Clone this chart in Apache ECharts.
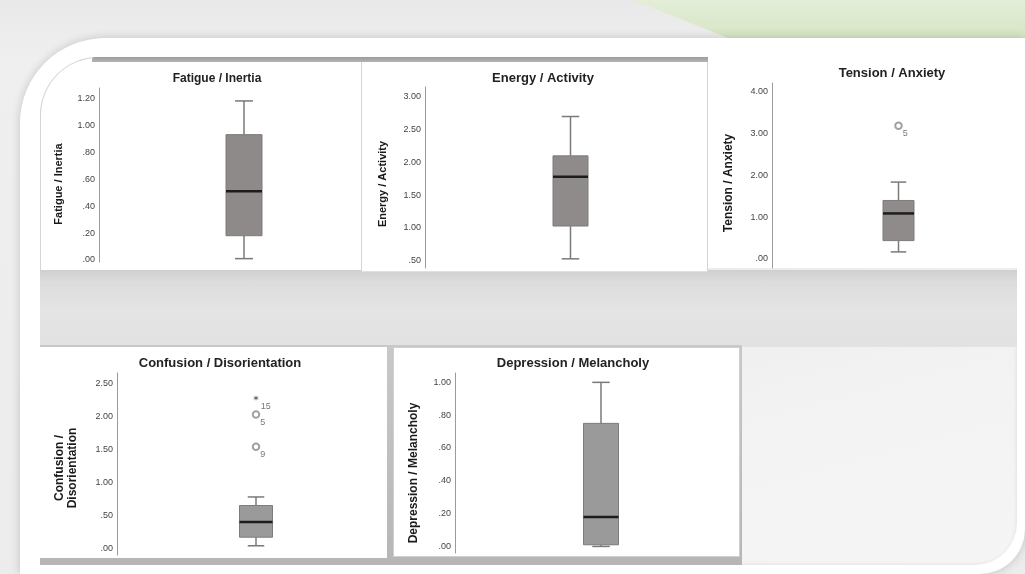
<!DOCTYPE html>
<html><head><meta charset="utf-8">
<script src="https://cdn.jsdelivr.net/npm/echarts@6/dist/echarts.min.js"></script>
<style>
html,body{margin:0;padding:0;}
body{width:1025px;height:574px;overflow:hidden;position:relative;font-family:"Liberation Sans",Arial,sans-serif;
 background:linear-gradient(180deg,#e9e9e9 0%,#efefef 10%,#ececec 100%);}
.abs{position:absolute;}
#green{left:0;top:0;width:1025px;height:38px;clip-path:polygon(633px 0,1025px 0,1025px 38px,728px 38px);
 background:linear-gradient(180deg,#e4eed8 0%,#d6e5c5 100%);}
#frame{left:20px;top:38px;width:1005px;height:536px;background:#fff;border-radius:85px 0 45px 0;
 box-shadow:0 0 10px rgba(0,0,0,0.18);}
#inner{left:40px;top:57px;width:977px;height:508px;border-radius:60px 0 42px 0;
 background:linear-gradient(165deg,#dedede 0%,#e8e8e8 40%,#f2f2f2 70%,#f5f5f5 100%);
 box-shadow:inset 2px 2px 6px rgba(0,0,0,0.18);}
#band{left:40px;top:270px;width:977px;height:77px;
 background:linear-gradient(180deg,#cfcfcf 0%,#dcdcdc 15%,#e4e4e4 50%,#e2e2e2 100%);}
#shadowBlock{left:40px;top:345px;width:702px;height:220px;background:linear-gradient(180deg,#c8c8c8,#b6b6b6);}
#p1{left:40px;top:57px;width:321px;height:212px;background:#fff;border-radius:58px 0 0 0;
 border-top:1px solid #d6d6d6;border-left:1px solid #d6d6d6;}
#topband{left:92px;top:57px;width:616px;height:5px;background:linear-gradient(180deg,#9c9c9c,#b4b4b4);
 border-radius:3px 0 0 0;}
#p2{left:361px;top:59px;width:345px;height:209px;background:#fff;border-top:3px solid #a4a4a4;
 border-left:1px solid #d4d4d4;border-right:1px solid #d4d4d4;border-bottom:1px solid #e0e0e0;}
#p3{left:708px;top:40px;width:317px;height:228px;background:#fff;}
#p4{left:40px;top:347px;width:347px;height:211px;background:#fff;}
#p5{left:393px;top:347px;width:345px;height:208px;background:#fff;border:1px solid #d0d0d0;}
#chart{left:0;top:0;width:1025px;height:574px;}
</style></head>
<body>
<div class="abs" id="green"></div>
<div class="abs" id="frame"></div>
<div class="abs" id="inner"></div>
<div class="abs" id="band"></div>
<div class="abs" id="shadowBlock"></div>
<div class="abs" id="p1"></div>
<div class="abs" id="p2"></div>
<div class="abs" id="topband"></div>
<div class="abs" id="p3"></div>
<div class="abs" id="p4"></div>
<div class="abs" id="p5"></div>
<div class="abs" id="chart"></div>
<script>
// ---- data ----
const panelTitles = ['Fatigue / Inertia','Energy / Activity','Tension / Anxiety','Confusion / Disorientation','Depression / Melancholy'];
const axisNames = ['Fatigue / Inertia','Energy / Activity','Tension / Anxiety','Confusion /\nDisorientation','Depression / Melancholy'];
// [lower whisker, Q1, median, Q3, upper whisker]
const fatigueBox = [0.01, 0.18, 0.51, 0.93, 1.18];
const energyBox = [0.53, 1.03, 1.78, 2.10, 2.70];
const tensionBox = [0.17, 0.44, 1.09, 1.40, 1.84];
const confusionBox = [0.04, 0.17, 0.40, 0.65, 0.78];
const depressionBox = [0.00, 0.01, 0.18, 0.75, 1.00];
const tensionOutlierValues = [3.19];
const tensionOutlierIds = ['5'];
const confusionOutlierValues = [2.03, 1.54];
const confusionOutlierIds = ['5', '9'];
const confusionExtremeValues = [2.28];
const confusionExtremeIds = ['15'];
const fatigueTicks = [0, 0.2, 0.4, 0.6, 0.8, 1.0, 1.2];
const energyTicks = [0.5, 1.0, 1.5, 2.0, 2.5, 3.0];
const tensionTicks = [0, 1, 2, 3, 4];
const confusionTicks = [0, 0.5, 1.0, 1.5, 2.0, 2.5];
const depressionTicks = [0, 0.2, 0.4, 0.6, 0.8, 1.0];

// ---- layout / style ----
const grids = [
  {left:99, top:88, width:290, height:174},
  {left:425, top:87, width:291, height:181},
  {left:772, top:83, width:302, height:185},
  {left:117, top:373, width:278, height:182},
  {left:455, top:373, width:292, height:180}
];
const ranges = [[-0.015,1.276],[0.39,3.15],[-0.215,4.21],[-0.1,2.66],[-0.04,1.057]];
const tickSets = [fatigueTicks, energyTicks, tensionTicks, confusionTicks, depressionTicks];
const boxes = [fatigueBox, energyBox, tensionBox, confusionBox, depressionBox];
const boxWidths = [36, 35, 31, 33, 35];
const fills = ['#8e8a89','#8f8b8a','#8f8b8a','#9a9a9a','#9a9a9a'];
const titlePos = [[217,79,12],[543,78,13],[892,73,13],[220,363,13],[573,363,13]];
const namePos = [[58.5,184,11],[383,184,11],[729,183,12],[66.5,468,12],[414,473,12]];

function fmt(v){ return v.toFixed(2).replace(/^0\./, '.'); }

function boxRenderer(w, fill){
  return function(params, api){
    const x = api.value(0);
    const lo = api.coord([x, api.value(1)]);
    const q1 = api.coord([x, api.value(2)]);
    const md = api.coord([x, api.value(3)]);
    const q3 = api.coord([x, api.value(4)]);
    const hi = api.coord([x, api.value(5)]);
    const cx = lo[0], hw = w/2, cw = w/4;
    const ws = {stroke:'#7a7a7a', lineWidth:1.5};
    return {type:'group', children:[
      {type:'line', shape:{x1:cx,y1:hi[1],x2:cx,y2:q3[1]}, style:ws},
      {type:'line', shape:{x1:cx,y1:q1[1],x2:cx,y2:lo[1]}, style:ws},
      {type:'line', shape:{x1:cx-cw,y1:hi[1],x2:cx+cw,y2:hi[1]}, style:ws},
      {type:'line', shape:{x1:cx-cw,y1:lo[1],x2:cx+cw,y2:lo[1]}, style:ws},
      {type:'rect', shape:{x:cx-hw,y:q3[1],width:w,height:q1[1]-q3[1]}, style:{fill:fill, stroke:'#7e7b7a', lineWidth:1}},
      {type:'line', shape:{x1:cx-hw,y1:md[1],x2:cx+hw,y2:md[1]}, style:{stroke:'#1c1c1c', lineWidth:2.5}}
    ]};
  };
}

const xAxes = [], yAxes = [], series = [], graphics = [];
grids.forEach((g, i) => {
  xAxes.push({type:'category', gridIndex:i, data:[''], show:false});
  yAxes.push({type:'value', gridIndex:i, min:ranges[i][0], max:ranges[i][1],
    splitLine:{show:false}, axisTick:{show:false},
    axisLine:{show:true, lineStyle:{color:'#9a9a9a', width:1}},
    axisLabel:{customValues:tickSets[i], formatter:fmt, fontSize:9, color:'#444', margin:4,
      fontFamily:'"Liberation Sans", Arial, sans-serif'}});
  series.push({type:'custom', xAxisIndex:i, yAxisIndex:i, silent:true,
    renderItem:boxRenderer(boxWidths[i], fills[i]),
    encode:{x:0, y:[1,2,3,4,5]},
    data:[[0].concat(boxes[i])]});
  graphics.push({type:'text', x:titlePos[i][0], y:titlePos[i][1], silent:true,
    style:{text:panelTitles[i], align:'center', verticalAlign:'middle',
      font:'bold '+titlePos[i][2]+'px "Liberation Sans", Arial, sans-serif', fill:'#222'}});
  graphics.push({type:'text', x:namePos[i][0], y:namePos[i][1], rotation:Math.PI/2, silent:true,
    style:{text:axisNames[i], align:'center', verticalAlign:'middle', lineHeight:13,
      font:'bold '+namePos[i][2]+'px "Liberation Sans", Arial, sans-serif', fill:'#1a1a1a'}});
});

const outLabel = {show:true, formatter:'{b}', position:'right', distance:0, offset:[0,8], fontSize:9, color:'#555',
  fontFamily:'"Liberation Sans", Arial, sans-serif'};
function pts(vals, ids){ return vals.map((v,k)=>({name:ids[k], value:[0, v]})); }
series.push({type:'scatter', xAxisIndex:2, yAxisIndex:2, silent:true, symbol:'emptyCircle', symbolSize:6.5,
  itemStyle:{color:'#8a8a8a', borderWidth:0.9}, label:outLabel, data:pts(tensionOutlierValues, tensionOutlierIds)});
series.push({type:'scatter', xAxisIndex:3, yAxisIndex:3, silent:true, symbol:'emptyCircle', symbolSize:6.5,
  itemStyle:{color:'#8a8a8a', borderWidth:0.9}, label:outLabel, data:pts(confusionOutlierValues, confusionOutlierIds)});
series.push({type:'scatter', xAxisIndex:3, yAxisIndex:3, silent:true,
  symbol:'path://M0,-5L0,5M-4.33,-2.5L4.33,2.5M-4.33,2.5L4.33,-2.5', symbolSize:4.5,
  itemStyle:{color:'none', borderColor:'#444', borderWidth:0.9}, label:outLabel,
  data:pts(confusionExtremeValues, confusionExtremeIds)});

const chart = echarts.init(document.getElementById('chart'), null, {renderer:'canvas'});
chart.setOption({
  backgroundColor:'transparent', animation:false,
  grid:grids, xAxis:xAxes, yAxis:yAxes, series:series, graphic:graphics
});
</script>
</body></html>
